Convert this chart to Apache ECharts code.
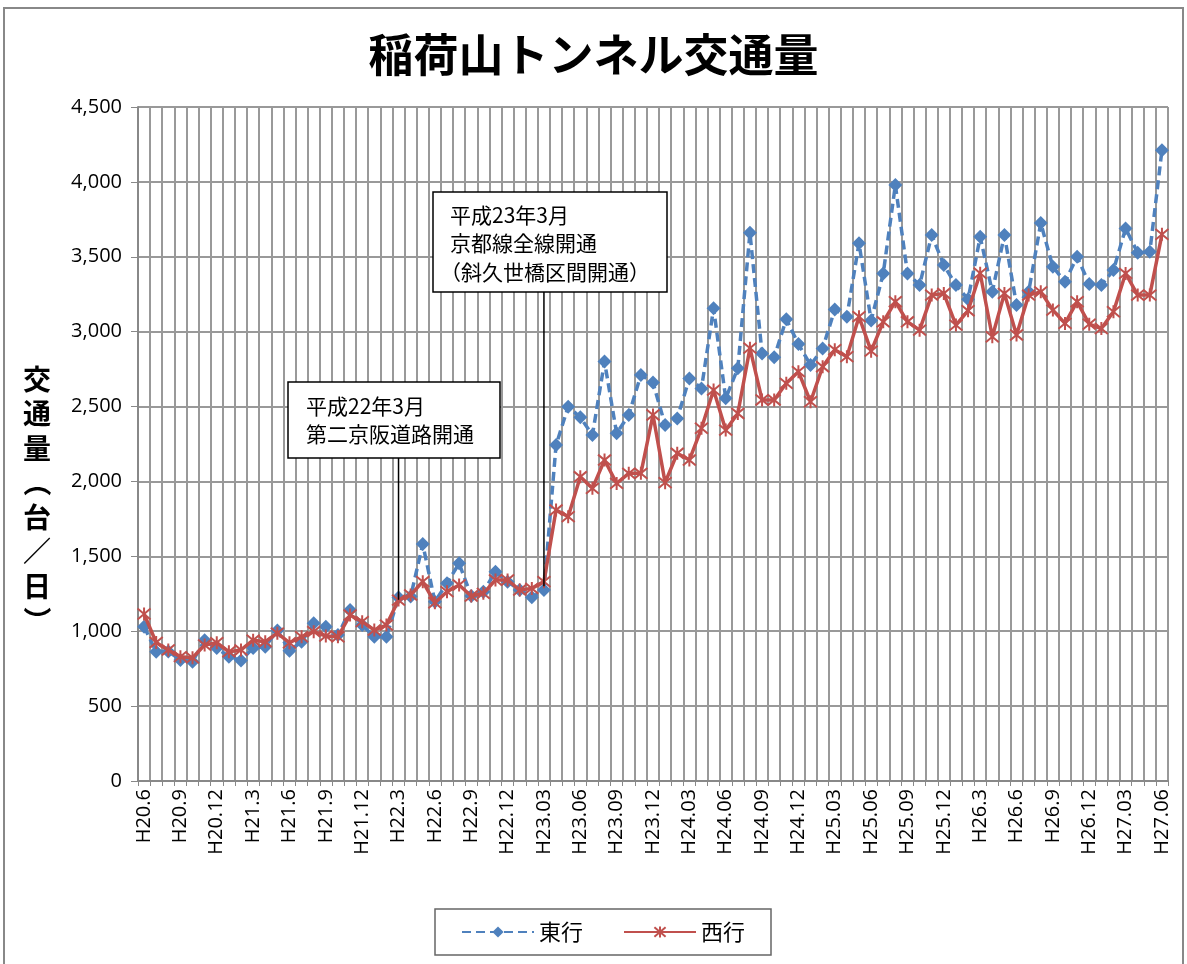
<!DOCTYPE html>
<html><head><meta charset="utf-8">
<script src="https://cdn.jsdelivr.net/npm/echarts@6/dist/echarts.min.js"></script>
<style>html,body{margin:0;padding:0;background:#fff}#c{width:1187px;height:964px}</style>
</head><body><div id="c"></div>
<script>
const categories = [
 'H20.6','H20.7','H20.8','H20.9','H20.10','H20.11','H20.12','H21.1','H21.2','H21.3','H21.4','H21.5',
 'H21.6','H21.7','H21.8','H21.9','H21.10','H21.11','H21.12','H22.1','H22.2','H22.3','H22.4','H22.5',
 'H22.6','H22.7','H22.8','H22.9','H22.10','H22.11','H22.12','H23.01','H23.02','H23.03','H23.04','H23.05',
 'H23.06','H23.07','H23.08','H23.09','H23.10','H23.11','H23.12','H24.01','H24.02','H24.03','H24.04','H24.05',
 'H24.06','H24.07','H24.08','H24.09','H24.10','H24.11','H24.12','H25.01','H25.02','H25.03','H25.04','H25.05',
 'H25.06','H25.07','H25.08','H25.09','H25.10','H25.11','H25.12','H26.1','H26.2','H26.3','H26.4','H26.5',
 'H26.6','H26.7','H26.8','H26.9','H26.10','H26.11','H26.12','H27.01','H27.02','H27.03','H27.04','H27.05',
 'H27.06'
];
const eastbound = [
 1030,863,865,808,797,940,888,830,805,888,897,1005,
 870,930,1053,1030,975,1141,1041,963,963,1225,1231,1582,
 1197,1320,1453,1235,1264,1397,1331,1275,1226,1275,2243,2499,
 2428,2310,2800,2321,2444,2711,2660,2377,2421,2688,2621,3156,
 2555,2755,3660,2855,2829,3083,2917,2777,2888,3148,3100,3590,
 3075,3388,3979,3388,3311,3645,3445,3311,3216,3633,3266,3645,
 3178,3266,3725,3433,3333,3500,3318,3311,3411,3689,3527,3533,
 4212
];
const westbound = [
 1115,925,875,830,823,908,923,863,875,940,930,987,
 923,963,997,968,963,1108,1064,1008,1041,1208,1242,1331,
 1190,1264,1309,1235,1253,1342,1342,1275,1286,1331,1809,1765,
 2031,1954,2143,1987,2054,2054,2444,1992,2188,2143,2355,2610,
 2343,2454,2890,2544,2544,2655,2733,2532,2766,2880,2833,3100,
 2870,3066,3200,3066,3010,3244,3255,3044,3140,3390,2966,3255,
 2978,3244,3266,3144,3055,3200,3050,3021,3133,3389,3244,3244,
 3650
];
const seriesNames = ['東行','西行'];
const titleText = '稲荷山トンネル交通量';
const yAxisTitle = ['交','通','量','（','台','／','日','）'];
const note1 = ['平成22年3月','第二京阪道路開通'];
const note2 = ['平成23年3月','京都線全線開通','（斜久世橋区間開通）'];
const note1Cat = 'H22.3', note1Val = 1210;
const note2Cat = 'H23.03', note2Val = 1300;

const chart = echarts.init(document.getElementById('c'), null, {renderer:'canvas'});
const jp = '"Noto Sans CJK JP","Noto Sans",sans-serif';
const num = '"Open Sans","Noto Sans",sans-serif';
const starPath = 'path://M0,0L10,10M10,0L0,10M5,-1L5,11';
const option = {
  animation:false,
  backgroundColor:'#fff',
  title:{text:titleText,left:'center',top:27,textStyle:{fontFamily:jp,fontSize:45,fontWeight:'bold',color:'#000'}},
  grid:{left:138,right:19,top:107,bottom:183},
  legend:{
    data:seriesNames, left:435, bottom:9, itemWidth:72, itemHeight:14, itemGap:40,
    borderColor:'#666', borderWidth:1.5, padding:[12,26,12,26],
    textStyle:{fontFamily:jp,fontSize:22,color:'#000'}
  },
  xAxis:{
    type:'category', data:categories, boundaryGap:true,
    axisLine:{lineStyle:{color:'#888',width:2}},
    axisTick:{show:true,interval:0,length:5,lineStyle:{color:'#888'}},
    axisLabel:{interval:2,rotate:90,fontFamily:num,fontSize:20,color:'#000',margin:8},
    splitLine:{show:true,interval:0,lineStyle:{color:'#999',width:2}}
  },
  yAxis:{
    type:'value', min:0, max:4500, interval:500,
    axisLine:{show:true,lineStyle:{color:'#888',width:2}},
    axisTick:{show:true,length:7,lineStyle:{color:'#888'}},
    axisLabel:{fontFamily:num,fontSize:20,color:'#000',margin:16,
      formatter:v=>v.toLocaleString('en-US')},
    splitLine:{lineStyle:{color:'#999',width:2}}
  },
  series:[
    {name:seriesNames[0],type:'line',data:eastbound,symbol:'diamond',symbolSize:14,showAllSymbol:true,
     lineStyle:{color:'#4F81BD',width:3.5,type:[9,5]},itemStyle:{color:'#4F81BD'},z:3},
    {name:seriesNames[1],type:'line',data:westbound,symbol:starPath,symbolSize:13,showAllSymbol:true,
     lineStyle:{color:'#C0504D',width:3.5},itemStyle:{color:'#C0504D',borderColor:'#C0504D',borderWidth:2},z:4}
  ]
};
chart.setOption(option);

function box(x,y,w,h,lines,tx,ty0,lh,lineCat,lineVal){
  const px = chart.convertToPixel({xAxisIndex:0}, lineCat);
  const py = chart.convertToPixel({yAxisIndex:0}, lineVal);
  const els = [
    {type:'line',shape:{x1:px,y1:y+h,x2:px,y2:py},style:{stroke:'#000',lineWidth:1.5},z:10},
    {type:'rect',shape:{x:x,y:y,width:w,height:h},style:{fill:'#fff',stroke:'#000',lineWidth:1.5},z:10}
  ];
  lines.forEach((t,i)=>els.push({type:'text',x:tx-(t.charAt(0)==='（'?10:0),y:ty0+i*lh,z:11,
    style:{text:t,fontFamily:jp,fontSize:21,fill:'#000',verticalAlign:'middle'}}));
  return els;
}
const yTitleEls = yAxisTitle.map((ch,i)=>{
  const paren = (ch==='（'||ch==='）');
  return {type:'group',x:37,y:379+i*34.5,rotation:paren?-Math.PI/2:0,
    children:[{type:'text',x:0,y:0,
      style:{text:ch,fontFamily:jp,fontSize:28,fontWeight:'bold',fill:'#000',align:'center',verticalAlign:'middle'}}]};
});
chart.setOption({graphic:[
  {type:'rect',shape:{x:4,y:8,width:1179,height:1000},style:{fill:null,stroke:'#888',lineWidth:2},z:0,silent:true},
  ...yTitleEls,
  ...box(288,382,212,76,note1,306,406,28,note1Cat,note1Val),
  ...box(433,192,234,100,note2,450,215,28.5,note2Cat,note2Val)
]});
</script></body></html>
